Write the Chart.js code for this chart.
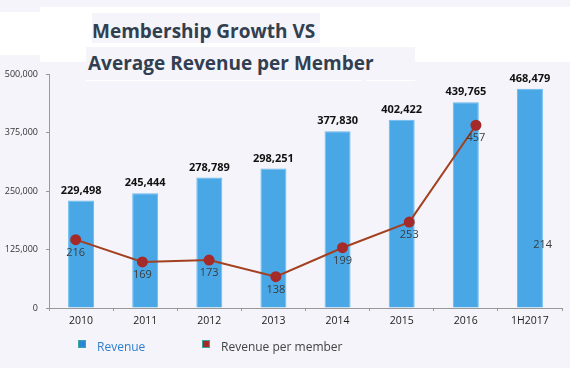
<!DOCTYPE html>
<html lang="en">
<head>
<meta charset="UTF-8">
<title>Membership Growth VS Average Revenue per Member</title>
<script src="https://cdn.jsdelivr.net/npm/chart.js"></script>
<style>
    html, body { margin: 0; padding: 0; }
    body { width: 570px; height: 368px; background: #f4f4fa; position: relative; overflow: hidden; font-family: "Open Sans", sans-serif; }
    .patch { position: absolute; }
    .white { background: #ffffff; }
    .lav { background: #f4f4fa; }
    .title { position: absolute; color: #323f50; font-weight: bold; font-size: 19px; white-space: nowrap; line-height: 1; }
    #wrap { position: absolute; left: 0; top: 0; width: 570px; height: 368px; }
</style>
</head>
<body>
    <!-- messy white/lavender blocks behind the title -->
    <div class="patch white" style="left:0;top:12px;width:40px;height:43px"></div>
    <div class="patch white" style="left:40px;top:7px;width:530px;height:55px"></div>
    <div class="patch lav" style="left:92px;top:13px;width:228px;height:30px"></div>
    <div class="patch lav" style="left:86px;top:47px;width:329px;height:33px"></div>
    <div class="patch white" style="left:86px;top:80px;width:276px;height:1px"></div>
    <div class="patch white" style="left:366px;top:80px;width:49px;height:1px"></div>

    <div class="title" style="left:92px;top:22px">Membership Growth VS</div>
    <div class="title" style="left:88px;top:54px">Average Revenue per Member</div>

    <div id="wrap"><canvas id="myChart" width="570" height="368"></canvas></div>

    <script>
        const years = ['2010', '2011', '2012', '2013', '2014', '2015', '2016', '1H2017'];
        const revenue = [229498, 245444, 278789, 298251, 377830, 402422, 439765, 468479];
        const perMember = [216, 169, 173, 138, 199, 253, 457, 214];
        const plottedPoints = 7; // 1H2017 value is only written on the bar, no point
        const yTicks = [0, 125000, 250000, 375000, 500000];

        const fmt = (n) => n.toLocaleString('en-US');

        // labels on top of the bars and under the line points
        const valueLabels = {
            id: 'valueLabels',
            afterDatasetsDraw(chart) {
                const ctx = chart.ctx;
                ctx.save();
                ctx.textAlign = 'center';
                ctx.textBaseline = 'middle';

                ctx.font = 'bold 11px "Open Sans"';
                ctx.fillStyle = '#111';
                chart.getDatasetMeta(1).data.forEach((bar, i) => {
                    ctx.fillText(fmt(revenue[i]), bar.x, bar.y - 10);
                });

                ctx.font = '11px "Open Sans"';
                ctx.fillStyle = '#3c3c3c';
                const xs = chart.scales.x2, ys = chart.scales.y2;
                perMember.forEach((v, i) => {
                    const off = i < plottedPoints ? 13 : 4;
                    ctx.fillText(String(v), xs.getPixelForValue(i), ys.getPixelForValue(v) + off);
                });
                ctx.restore();
            }
        };

        // simple legend under the axis
        const bottomLegend = {
            id: 'bottomLegend',
            afterDraw(chart) {
                const ctx = chart.ctx;
                const items = [
                    { text: 'Revenue', box: '#2f86d6', color: '#2f7fd0', x: 82 },
                    { text: 'Revenue per member', box: '#a52a2a', color: '#444', x: 206 }
                ];
                ctx.save();
                ctx.font = '12px "Open Sans"';
                ctx.textBaseline = 'middle';
                items.forEach(it => {
                    ctx.fillStyle = it.box;
                    ctx.fillRect(it.x - 4, 340, 8, 8);
                    ctx.strokeStyle = '#3aa6a0';
                    ctx.lineWidth = 1;
                    ctx.strokeRect(it.x - 3.5, 340.5, 7, 7);
                    ctx.fillStyle = it.color;
                    ctx.fillText(it.text, it.x + 15, 348);
                });
                ctx.restore();
            }
        };

        new Chart(document.getElementById('myChart'), {
            data: {
                labels: years,
                datasets: [{
                    type: 'line',
                    label: 'Revenue per member',
                    data: perMember.slice(0, plottedPoints).map((v, i) => ({ x: i, y: v })),
                    xAxisID: 'x2',
                    yAxisID: 'y2',
                    borderColor: '#a3401f',
                    borderWidth: 2,
                    pointBackgroundColor: '#a52a2a',
                    pointBorderColor: '#a52a2a',
                    pointRadius: 4.5,
                    tension: 0,
                    order: 0
                }, {
                    type: 'bar',
                    label: 'Revenue',
                    data: revenue,
                    xAxisID: 'x',
                    yAxisID: 'y',
                    backgroundColor: '#49a7e6',
                    borderColor: '#6ab9ee',
                    borderWidth: 1,
                    grouped: false,
                    categoryPercentage: 1,
                    barPercentage: 0.405,
                    order: 1
                }]
            },
            options: {
                responsive: false,
                animation: false,
                layout: { padding: { top: 74, right: 8, bottom: 0, left: 0 } },
                plugins: {
                    legend: { display: false },
                    tooltip: { enabled: false }
                },
                scales: {
                    x: {
                        type: 'category',
                        offset: true,
                        grid: { drawOnChartArea: false, tickLength: 3, color: '#999', offset: true },
                        border: { color: '#999' },
                        ticks: { color: '#222', font: { family: 'Open Sans', size: 10.5 }, padding: 4, maxRotation: 0 },
                        afterFit: (s) => { s.height = 60; }
                    },
                    y: {
                        min: 0,
                        max: 500000,
                        afterBuildTicks: (s) => { s.ticks = yTicks.map(v => ({ value: v })); },
                        grid: { drawOnChartArea: false, tickLength: 3, color: '#999' },
                        border: { color: '#999' },
                        ticks: { color: '#333', font: { family: 'Open Sans', size: 9 }, padding: 8, callback: (v) => fmt(v) },
                        afterFit: (s) => { s.width = 49; }
                    },
                    x2: { type: 'linear', display: false, min: -0.4, max: 7.29 },
                    y2: { type: 'linear', display: false, min: 72, max: 565 }
                }
            },
            plugins: [valueLabels, bottomLegend]
        });
    </script>
</body>
</html>
